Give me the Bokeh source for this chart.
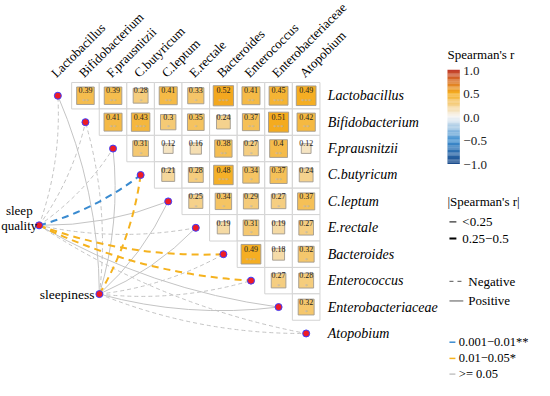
import math
from bokeh.plotting import figure
from bokeh.models import Range1d, ColumnDataSource
from bokeh.core.properties import value
from bokeh.embed import file_html
from bokeh.resources import INLINE

# ---------------- data ----------------
species = ["Lactobacillus", "Bifidobacterium", "F.prausnitzii", "C.butyricum", "C.leptum",
           "E.rectale", "Bacteroides", "Enterococcus", "Enterobacteriaceae", "Atopobium"]

# upper triangle (row i holds correlations with columns i+1 .. end)
r_lactobacillus = [0.39, 0.39, 0.28, 0.41, 0.33, 0.52, 0.41, 0.45, 0.49]
r_bifidobacterium = [0.41, 0.43, 0.3, 0.35, 0.24, 0.37, 0.51, 0.42]
r_fprausnitzii = [0.31, 0.12, 0.16, 0.38, 0.27, 0.4, 0.12]
r_cbutyricum = [0.21, 0.28, 0.48, 0.34, 0.37, 0.24]
r_cleptum = [0.25, 0.34, 0.29, 0.27, 0.37]
r_erectale = [0.19, 0.31, 0.19, 0.27]
r_bacteroides = [0.49, 0.18, 0.32]
r_enterococcus = [0.27, 0.28]
r_enterobacteriaceae = [0.32]

s_lactobacillus = ["**", "**", "*", "**", "*", "***", "**", "***", "***"]
s_bifidobacterium = ["**", "***", "*", "*", "", "**", "***", "**"]
s_fprausnitzii = ["*", "", "", "**", "*", "**", ""]
s_cbutyricum = ["", "*", "***", "*", "**", ""]
s_cleptum = ["*", "*", "*", "*", "**"]
s_erectale = ["", "*", "", "*"]
s_bacteroides = ["***", "", "*"]
s_enterococcus = ["*", "*"]
s_enterobacteriaceae = ["*"]

corr_rows = [r_lactobacillus, r_bifidobacterium, r_fprausnitzii, r_cbutyricum, r_cleptum,
             r_erectale, r_bacteroides, r_enterococcus, r_enterobacteriaceae]
star_rows = [s_lactobacillus, s_bifidobacterium, s_fprausnitzii, s_cbutyricum, s_cleptum,
             s_erectale, s_bacteroides, s_enterococcus, s_enterobacteriaceae]

env_names = ["sleep quality", "sleepiness"]
# links from each environmental variable to every species
sq_sign = [-1, -1, -1, -1, 1, -1, -1, -1, 1, -1]
sq_pcat = ["ns", "ns", "ns", "**", "ns", "ns", "*", "*", "ns", "ns"]
sq_rcat = ["<0.25", "<0.25", "<0.25", "0.25-0.5", "<0.25", "<0.25", "0.25-0.5", "0.25-0.5", "<0.25", "<0.25"]
sl_sign = [1, -1, 1, -1, 1, 1, -1, -1, 1, -1]
sl_pcat = ["ns", "ns", "ns", "*", "ns", "ns", "ns", "ns", "ns", "ns"]
sl_rcat = ["<0.25", "<0.25", "<0.25", "0.25-0.5", "<0.25", "<0.25", "<0.25", "<0.25", "<0.25", "<0.25"]

cbar_ticks = [1.0, 0.5, 0.0, -0.5, -1.0]
cbar_tick_labels = ["1.0", "0.5", "0.0", "\u22120.5", "\u22121.0"]
size_labels = ["<0.25", "0.25\u22120.5"]
type_labels = ["Negative", "Positive"]
p_labels = ["0.001\u22120.01**", "0.01\u22120.05*", ">= 0.05"]

# ---------------- styling / layout ----------------
CW, RH = 27.9, 26.9          # cell size in px
X0, Y0 = 63.0, 103.0         # centre of first diagonal cell (px)
XL, XR, YT, YB = 5, 545, 6, 393


def F():
    return value("Liberation Serif")


def ux(X):
    return 1 + (X - X0) / CW


def uy(Y):
    return 1 + (Y - Y0) / RH


def px(u):
    return X0 + (u - 1) * CW


def py(v):
    return Y0 + (v - 1) * RH


stops = [(-1.0, (26, 74, 138)), (-0.5, (63, 143, 208)), (0.0, (245, 245, 245)),
         (0.5, (245, 173, 31)), (1.0, (192, 57, 43))]


def cmap(v):
    v = max(-1.0, min(1.0, v))
    for (a, ca), (b, cb) in zip(stops[:-1], stops[1:]):
        if a <= v <= b:
            t = (v - a) / (b - a)
            c = [round(ca[k] + t * (cb[k] - ca[k])) for k in range(3)]
            return "#%02x%02x%02x" % tuple(c)
    return "#ffffff"


p = figure(width=534, height=380, x_range=Range1d(ux(XL), ux(XR)),
           y_range=Range1d(uy(YB), uy(YT)), output_backend="svg", toolbar_location=None,
           min_border=0, x_axis_location=None, y_axis_location=None)
p.xgrid.visible = False
p.ygrid.visible = False
p.outline_line_color = None

# ---------------- heatmap ----------------
xs, ys, rs, sts = [], [], [], []
for i, (row, srow) in enumerate(zip(corr_rows, star_rows)):
    for k, (r, s) in enumerate(zip(row, srow)):
        xs.append(i + 2 + k)
        ys.append(i + 1)
        rs.append(r)
        sts.append(s)
side = [28.5 * math.sqrt(abs(r)) for r in rs]
src = ColumnDataSource(dict(
    x=xs, y=ys, r=rs, label=[f"{r:g}" for r in rs],
    color=[cmap(r) for r in rs], w=[s / CW for s in side], h=[s / RH for s in side],
    ty=[y - 0.2 for y in ys]))
star_src = ColumnDataSource(dict(
    x=[x for x, s in zip(xs, sts) if s], y=[y + 0.2 for y, s in zip(ys, sts) if s],
    stars=[s for s in sts if s]))

p.rect("x", "y", width=1, height=1, source=src, fill_color="white",
       line_color="#d3d3d3", line_width=1)
p.rect("x", "y", width="w", height="h", source=src, fill_color="color",
       line_color="#a09a90", line_width=0.9)
p.text("x", "ty", text="label", source=src, text_font=F(), text_font_size="8px",
       text_align="center", text_baseline="middle", text_color="#222222")
p.text("x", "y", text="stars", source=star_src, text_font=F(), text_font_size="7px",
       text_align="center", text_baseline="middle", text_color="#b5b5b5")

# ---------------- links ----------------
node_px = {"sleep quality": (44, 235), "sleepiness": (105, 305)}
pcolor = {"**": "#3a8bd0", "*": "#f5b21e", "ns": "#c4c4c4"}
rwidth = {"<0.25": 1.0, "0.25-0.5": 2.0}


def draw_links(name, signs, pcats, rcats, which):
    sx, sy_ = node_px[name]
    for k in range(len(species)):
        if (pcats[k] == "ns") != (which == "ns"):
            continue
        ex, ey = px(k + 1), py(k + 1)
        dx, dy = ex - sx, ey - sy_
        cxp = (sx + ex) / 2 + 0.1 * (-dy)
        cyp = (sy_ + ey) / 2 + 0.1 * dx
        w = rwidth[rcats[k]]
        dash = "solid" if signs[k] > 0 else ("4 3" if w < 1.5 else "7 5")
        p.quadratic(x0=[ux(sx)], y0=[uy(sy_)], x1=[k + 1], y1=[k + 1],
                    cx=[ux(cxp)], cy=[uy(cyp)], line_color=pcolor[pcats[k]],
                    line_width=w, line_dash=dash)


for which in ["ns", "sig"]:
    draw_links("sleep quality", sq_sign, sq_pcat, sq_rcat, which)
    draw_links("sleepiness", sl_sign, sl_pcat, sl_rcat, which)

# diagonal nodes and env nodes
p.scatter(x=list(range(1, len(species) + 1)), y=list(range(1, len(species) + 1)),
          size=7, fill_color="#ee1c25", line_color="#3d3dff", line_width=1)
p.scatter(x=[ux(node_px[n][0]) for n in env_names], y=[uy(node_px[n][1]) for n in env_names],
          size=7, fill_color="#ee1c25", line_color="#3d3dff", line_width=1)

# node labels
p.text(x=[ux(24)], y=[uy(227.5)], text=["sleep\nquality"], text_font=F(),
       text_font_size="13px", text_align="center", text_baseline="middle",
       text_line_height=1.05, text_color="black")
p.text(x=[ux(100)], y=[uy(305)], text=["sleepiness"], text_font=F(),
       text_font_size="13.5px", text_align="right", text_baseline="middle", text_color="black")

# ---------------- axis-like labels ----------------
idx = list(range(1, len(species) + 1))
p.text(x=[j - 4.5 / CW for j in idx], y=[uy(82)] * len(idx), text=species, text_font=F(),
       text_font_size="13px", angle=math.pi / 4, text_align="left",
       text_baseline="alphabetic", text_color="black")
p.text(x=[ux(336)] * len(idx), y=idx, text=species, text_font=F(), text_font_size="14px",
       text_font_style="italic", text_align="left", text_baseline="middle", text_color="black")

# ---------------- colour bar legend ----------------
p.text(x=[ux(457)], y=[uy(61)], text=["Spearman's r"], text_font=F(), text_font_size="13px",
       text_align="left", text_baseline="middle", text_color="black")


def cb_y(v):
    return 124.5 - v * 48


nseg = 80
vals = [-1 + 2 * (k + 0.5) / nseg for k in range(nseg)]
p.quad(left=[ux(457)] * nseg, right=[ux(469.5)] * nseg,
       top=[uy(cb_y(v + 1 / nseg)) for v in vals], bottom=[uy(cb_y(v - 1 / nseg)) for v in vals],
       fill_color=[cmap(v) for v in vals], line_color=None)
p.text(x=[ux(473)] * len(cbar_ticks), y=[uy(cb_y(v) + 1) for v in cbar_ticks],
       text=cbar_tick_labels, text_font=F(), text_font_size="13px", text_align="left",
       text_baseline="middle", text_color="#222222")

# size legend
p.text(x=[ux(457)], y=[uy(211)], text=["|Spearman's r|"], text_font=F(),
       text_font_size="13px", text_align="left", text_baseline="middle", text_color="black")
size_y = [231.5, 248.5]
size_w = [1.0, 2.0]
for yv, wv, lab in zip(size_y, size_w, size_labels):
    p.segment(x0=[ux(459)], y0=[uy(yv)], x1=[ux(466)], y1=[uy(yv)], line_color="black",
              line_width=wv)
    p.text(x=[ux(472)], y=[uy(yv)], text=[lab], text_font=F(), text_font_size="13px",
           text_align="left", text_baseline="middle", text_color="black")

# line type legend
type_y = [292, 312]
type_dash = ["4 4", "solid"]
for yv, dv, lab in zip(type_y, type_dash, type_labels):
    p.segment(x0=[ux(459)], y0=[uy(yv)], x1=[ux(473)], y1=[uy(yv)], line_color="#555555",
              line_width=1.0, line_dash=dv)
    p.text(x=[ux(478)], y=[uy(yv)], text=[lab], text_font=F(), text_font_size="13px",
           text_align="left", text_baseline="middle", text_color="black")

# p-value legend
p_y = [354, 370.5, 386.5]
p_col = [pcolor["**"], pcolor["*"], pcolor["ns"]]
for yv, cv, lab in zip(p_y, p_col, p_labels):
    p.segment(x0=[ux(459)], y0=[uy(yv)], x1=[ux(465)], y1=[uy(yv)], line_color=cv,
              line_width=1.5)
    p.text(x=[ux(468.5)], y=[uy(yv)], text=[lab], text_font=F(), text_font_size="12.5px",
           text_align="left", text_baseline="middle", text_color="black")

open("out.html", "w").write(file_html(p, INLINE))
